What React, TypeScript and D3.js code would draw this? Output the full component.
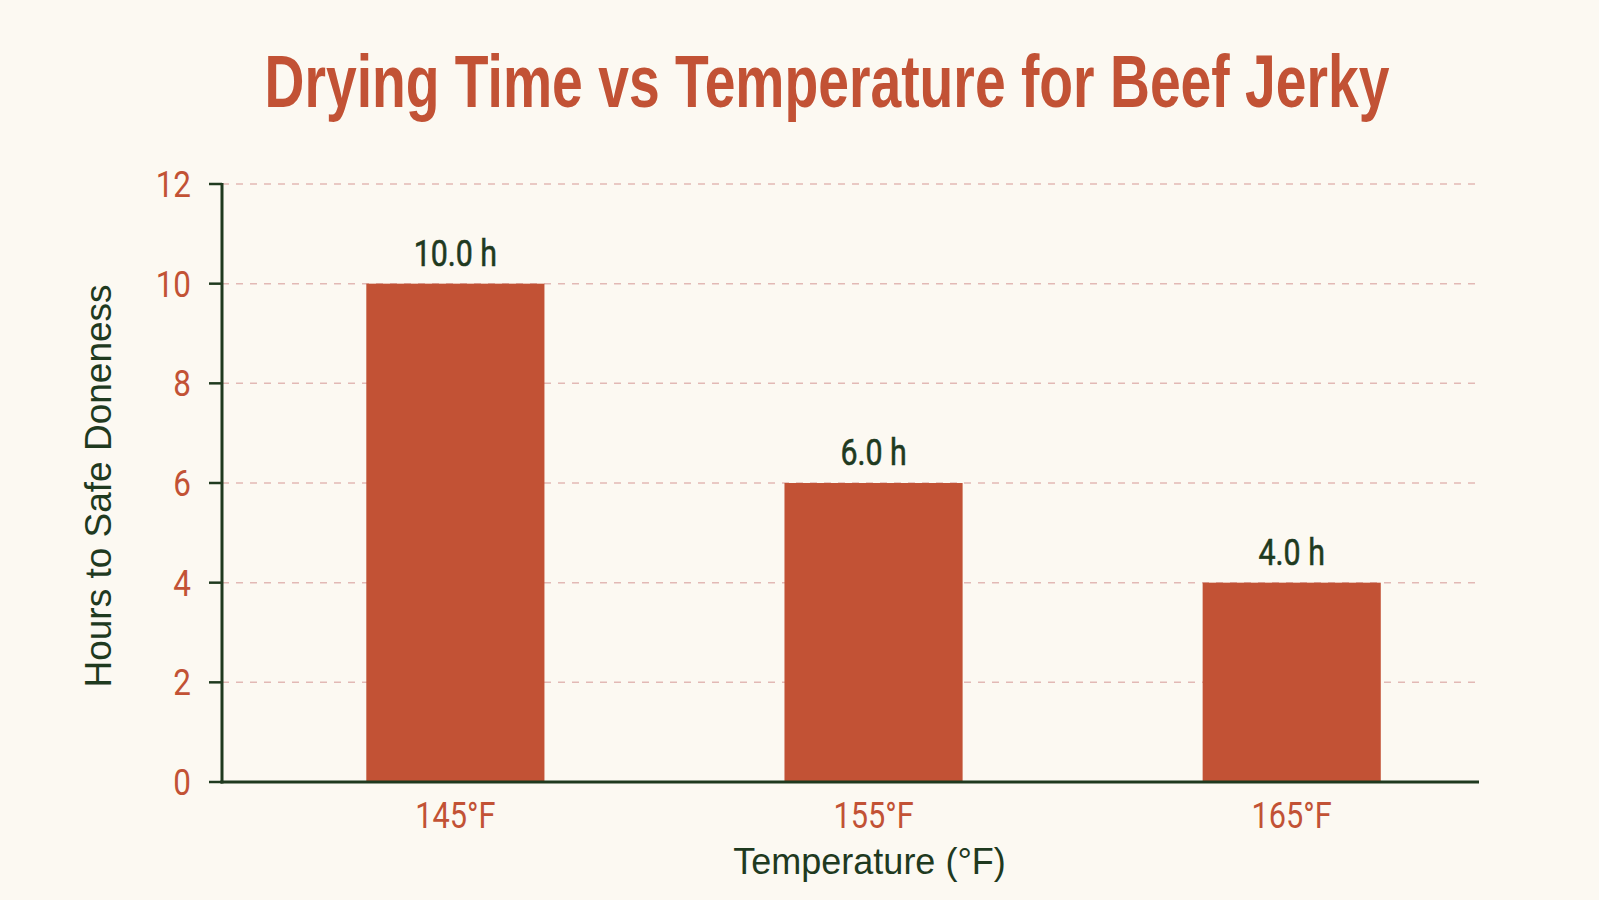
import { scaleBand, scaleLinear } from "d3";

const WIDTH = 1599;
const HEIGHT = 900;
const MARGIN = { top: 184, right: 120, bottom: 118, left: 222 };

const temperatures = ["145°F", "155°F", "165°F"];
const dryingHours = [10, 6, 4];
const hourTicks = [0, 2, 4, 6, 8, 10, 12];

const RED = "#c25235";
const GREEN = "#1f3a1f";
const GRID = "#e2b9b5";
const BG = "#fcf9f2";

export default function App() {
  const x = scaleBand<string>()
    .domain(temperatures)
    .range([MARGIN.left, WIDTH - MARGIN.right])
    .paddingInner(0.574)
    .paddingOuter(0.29)
    .align(0.595);

  const y = scaleLinear()
    .domain([0, 12])
    .range([HEIGHT - MARGIN.bottom, MARGIN.top]);

  const x0 = MARGIN.left;
  const x1 = WIDTH - MARGIN.right;
  const y0 = y(0);
  const cx = (t: string) => (x(t) ?? 0) + x.bandwidth() / 2;

  return (
    <svg
      width={WIDTH}
      height={HEIGHT}
      viewBox={`0 0 ${WIDTH} ${HEIGHT}`}
      style={{ position: "fixed", left: 0, top: 0, display: "block" }}
    >
      <rect x="0" y="0" width={WIDTH} height={HEIGHT} fill={BG} />

      <text
        transform="translate(827,107) scale(0.737,1)"
        textAnchor="middle"
        fontFamily="'Liberation Sans', Arial, sans-serif"
        fontWeight="bold"
        fontSize={75}
        fill={RED}
      >
        Drying Time vs Temperature for Beef Jerky
      </text>

      {/* dashed guides */}
      {hourTicks
        .filter((t) => t > 0)
        .map((t) => (
          <line
            key={`g${t}`}
            x1={x0}
            x2={x1}
            y1={y(t)}
            y2={y(t)}
            stroke={GRID}
            strokeWidth={1.5}
            strokeDasharray="7 7"
          />
        ))}

      {temperatures.map((temp, i) => (
        <rect
          key={temp}
          x={x(temp)}
          y={y(dryingHours[i])}
          width={x.bandwidth()}
          height={y0 - y(dryingHours[i])}
          fill={RED}
        />
      ))}

      {temperatures.map((temp, i) => (
        <text
          key={`v${temp}`}
          transform={`translate(${cx(temp)},${y(dryingHours[i]) - 18}) scale(0.82,1)`}
          textAnchor="middle"
          fontFamily="Roboto, sans-serif"
          fontSize={37}
          fill={GREEN}
          stroke={GREEN}
          strokeWidth={0.6}
        >
          {`${dryingHours[i].toFixed(1)} h`}
        </text>
      ))}

      {/* y axis */}
      <line x1={x0} x2={x0} y1={y(12) - 1} y2={y0 + 1.5} stroke={GREEN} strokeWidth={3} />
      {hourTicks.map((t) => (
        <g key={`t${t}`}>
          <line x1={x0 - 13} x2={x0} y1={y(t)} y2={y(t)} stroke={GREEN} strokeWidth={2.5} />
          <text
            transform={`translate(${x0 - 31},${y(t) + 13}) scale(0.85,1)`}
            textAnchor="end"
            fontFamily="Roboto, sans-serif"
            fontSize={37}
            fill={RED}
          >
            {t}
          </text>
        </g>
      ))}

      {/* x axis */}
      <line x1={x0 - 1.5} x2={x1} y1={y0} y2={y0} stroke={GREEN} strokeWidth={3} />
      {temperatures.map((temp) => (
        <text
          key={`x${temp}`}
          transform={`translate(${cx(temp)},${y0 + 46}) scale(0.83,1)`}
          textAnchor="middle"
          fontFamily="Roboto, sans-serif"
          fontSize={37}
          fill={RED}
        >
          {temp}
        </text>
      ))}

      <text
        x={cx(temperatures[1]) - 4}
        y={874}
        textAnchor="middle"
        fontFamily="'Liberation Sans', Arial, sans-serif"
        fontSize={36}
        fill={GREEN}
      >
        Temperature (°F)
      </text>

      <text
        transform={`translate(111,${(y(12) + y0) / 2 + 3}) rotate(-90)`}
        textAnchor="middle"
        fontFamily="'Liberation Sans', Arial, sans-serif"
        fontSize={37}
        fill={GREEN}
      >
        Hours to Safe Doneness
      </text>
    </svg>
  );
}
